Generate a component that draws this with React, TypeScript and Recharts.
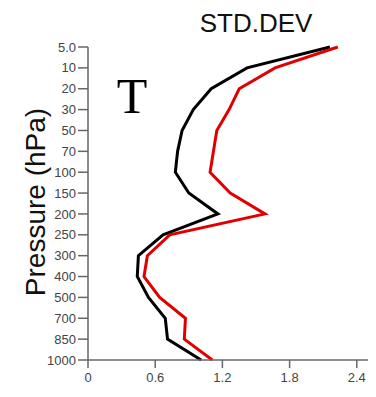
import { LineChart, Line, XAxis, YAxis } from 'recharts';

// pressure levels, top to bottom (hPa)
const levels = ['5.0', '10', '20', '30', '50', '70', '100', '150', '200', '250', '300', '400', '500', '700', '850', '1000'];
const blackStd = [2.16, 1.42, 1.10, 0.94, 0.84, 0.80, 0.78, 0.90, 1.16, 0.67, 0.45, 0.44, 0.54, 0.69, 0.71, 1.01];
const redStd = [2.23, 1.67, 1.35, 1.26, 1.15, 1.12, 1.09, 1.27, 1.58, 0.73, 0.53, 0.50, 0.64, 0.87, 0.86, 1.11];
const xTicks = [0, 0.6, 1.2, 1.8, 2.4];

const data = levels.map((p, i) => ({ p, black: blackStd[i], red: redStd[i] }));

const axisColor = '#666';
const tickStyle = { fontSize: 13, fill: '#444', fontFamily: 'Liberation Sans, Arial, sans-serif' };

export default function App() {
  return (
    <div style={{ position: 'absolute', left: 0, top: 0, width: 376, height: 397, background: '#fff' }}>
      <LineChart width={376} height={397} data={data} layout="vertical" margin={{ top: 47, right: 8, bottom: 0, left: 0 }}>
        <XAxis
          type="number"
          domain={[0, 2.5]}
          ticks={xTicks}
          tickFormatter={(v: number) => (v === 0 ? '0' : v.toFixed(1))}
          height={37}
          tickSize={8}
          tickMargin={5}
          stroke={axisColor}
          strokeWidth={1.5}
          tick={tickStyle}
        />
        <YAxis
          type="category"
          dataKey="p"
          width={88}
          interval={0}
          tickSize={10}
          tickMargin={2}
          stroke={axisColor}
          strokeWidth={1.5}
          tick={tickStyle}
        />
        <Line dataKey="black" stroke="#000" strokeWidth={3} dot={false} isAnimationActive={false} />
        <Line dataKey="red" stroke="#e00000" strokeWidth={3} dot={false} isAnimationActive={false} />
      </LineChart>
      <svg width={376} height={397} style={{ position: 'absolute', left: 0, top: 0, pointerEvents: 'none' }}>
        <text x={256} y={32} textAnchor="middle" fontSize={26} fontFamily="Liberation Sans, Arial, sans-serif" fill="#111">
          STD.DEV
        </text>
        <text x={132} y={113} textAnchor="middle" fontSize={50} fontFamily="Liberation Serif, Times New Roman, serif" fill="#000">
          T
        </text>
        <text
          x={0}
          y={0}
          transform="translate(45, 202) rotate(-90)"
          textAnchor="middle"
          fontSize={28}
          fontFamily="Liberation Sans, Arial, sans-serif"
          fill="#111"
        >
          Pressure (hPa)
        </text>
      </svg>
    </div>
  );
}
